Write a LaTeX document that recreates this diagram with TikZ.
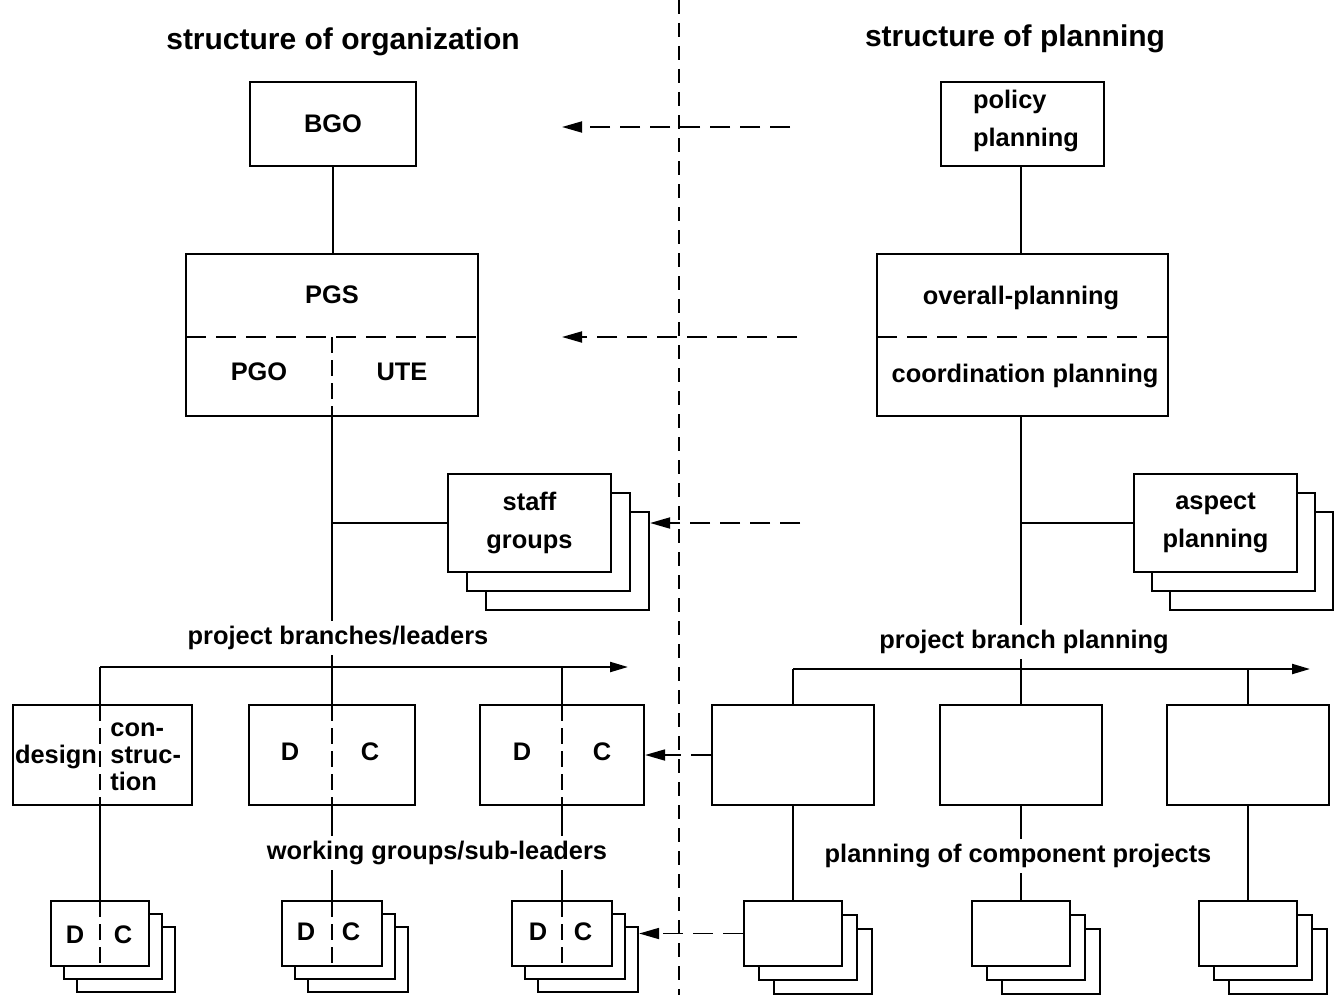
\documentclass[tikz,border=0pt]{standalone}
\usepackage{fontspec}
\setmainfont{Liberation Sans}
\usetikzlibrary{fit,arrows.meta}
\newcommand{\mkstack}[7]{%
  \node[box, fit={(#2+2*#6,#3+2*#7)(#4+2*#6,#5+2*#7)}] (#1c) {};
  \node[box, fit={(#2+#6,#3+#7)(#4+#6,#5+#7)}] (#1b) {};
  \node[box, fit={(#2,#3)(#4,#5)}] (#1) {};}
\begin{document}
\begin{tikzpicture}[x=0.5pt,y=-0.5pt,
  box/.style={draw, line width=1.1pt, fill=white, inner sep=0pt},
  lbl/.style={font=\fontsize{12.7}{15}\selectfont\bfseries, inner sep=0pt},
  lbltwo/.style={font=\fontsize{12.7}{19}\selectfont\bfseries, inner sep=0pt},
  gaplbl/.style={font=\fontsize{12.7}{15}\selectfont\bfseries, inner sep=2.5pt},
  ttl/.style={font=\fontsize{15}{18}\selectfont\bfseries, inner sep=0pt},
  conn/.style={line width=1.1pt},
  innerh/.style={line width=0.9pt, dash pattern=on 10pt off 5pt},
  innerv/.style={line width=0.9pt, dash pattern=on 8pt off 3.5pt},
  flow/.style={line width=0.9pt, dash pattern=on 10pt off 5pt, -{Triangle[length=10pt,width=5.5pt]}},
  bus/.style={line width=1.1pt, -{Triangle[length=9pt,width=5pt]}},
  divider/.style={line width=0.8pt, dash pattern=on 7pt off 4.5pt}]

\useasboundingbox (0,0) rectangle (1336,995);

% central divider
\coordinate (d1) at (679,0);
\coordinate (d2) at (679,995);
\draw[divider] (d1) -- (d2);

% titles
\node[ttl] (t1) at (343,42) {structure of organization};
\node[ttl] (t2) at (1015,39) {structure of planning};

% ---------- left: organization ----------
\node[box, fit={(250,82)(416,166)}] (bgo) {};
\node[lbl] (bgoT) at (bgo) {BGO};

\node[box, fit={(186,254)(478,416)}] (pgs) {};
\draw[innerh] (186,337) -- (478,337);
\draw[innerv] (332,337) -- (332,416);
\node[lbl] (pgsT) at (332,295) {PGS};
\node[lbl] (pgoT) at (259,372) {PGO};
\node[lbl] (uteT) at (402,372) {UTE};

\draw[conn] (bgo.south) -- (bgo.south |- pgs.north);

% staff groups
\mkstack{sg}{448}{474}{611}{572}{19}{19}
\node[lbltwo, align=center] (sgT) at (sg) {staff\\groups};

% project branches
\node[gaplbl] (pbl) at (338,638) {project branches/leaders};
\coordinate (busL) at (100,667);
\coordinate (busLe) at (628,667);

\node[box, fit={(13,705)(192,805)}] (lb1) {};
\node[box, fit={(249,705)(415,805)}] (lb2) {};
\node[box, fit={(480,705)(644,805)}] (lb3) {};
\draw[innerv] (100,705) -- (100,805);
\draw[innerv] (332,705) -- (332,805);
\draw[innerv] (562,705) -- (562,805);
\node[lbl] (desT) at (56,757) {design};
\node[font=\fontsize{12.7}{13.5}\selectfont\bfseries, inner sep=0pt, align=left, anchor=west] (conT) at (110,757) {con-\\struc-\\tion};
\node[lbl] (d2T) at (290,752) {D};
\node[lbl] (c2T) at (370,752) {C};
\node[lbl] (d3T) at (522,752) {D};
\node[lbl] (c3T) at (602,752) {C};

\draw[conn] (pgs.south) -- (pgs.south |- pbl.north);
\draw[conn] (pgs.south |- pbl.south) -- (lb2.north);
\draw[conn] (pgs.south |- sg.west) -- (sg.west);
\draw[bus] (busL) -- (busLe);
\draw[conn] (busL) -- (busL |- lb1.north);
\draw[conn] (lb3.north |- busL) -- (lb3.north);

% working groups
\node[gaplbl] (wgl) at (437,853) {working groups/sub-leaders};
\mkstack{ls1}{51}{901}{149}{966}{13}{13}
\mkstack{ls2}{282}{901}{382}{966}{13}{13}
\mkstack{ls3}{512}{901}{612}{966}{13}{13}
\draw[innerv] (100,901) -- (100,966);
\draw[innerv] (332,901) -- (332,966);
\draw[innerv] (562,901) -- (562,966);
\node[lbl] (ld1) at (75,935) {D};
\node[lbl] (lc1) at (123,935) {C};
\node[lbl] (ld2) at (306,932) {D};
\node[lbl] (lc2) at (351,932) {C};
\node[lbl] (ld3) at (538,932) {D};
\node[lbl] (lc3) at (583,932) {C};

\draw[conn] (busL |- lb1.south) -- (ls1.north);
\draw[conn] (lb2.south) -- (lb2.south |- wgl.north);
\draw[conn] (lb2.south |- wgl.south) -- (ls2.north);
\draw[conn] (lb3.south) -- (lb3.south |- wgl.north);
\draw[conn] (lb3.south |- wgl.south) -- (ls3.north);

% ---------- right: planning ----------
\node[box, fit={(941,82)(1104,166)}] (pol) {};
\node[lbltwo, align=left] (polT) at (1026,121) {policy\\planning};

\node[box, fit={(877,254)(1168,416)}] (ovp) {};
\draw[innerh] (877,337) -- (1168,337);
\node[lbl] (ovT) at (1021,298) {overall-planning};
\node[lbl] (coT) at (1025,376) {coordination planning};

\node[gaplbl] (pbp) at (1024,642) {project branch planning};
\coordinate (busR) at (793,669);
\coordinate (busRe) at (1310,669);

\node[box, fit={(712,705)(874,805)}] (rb1) {};
\node[box, fit={(940,705)(1102,805)}] (rb2) {};
\node[box, fit={(1167,705)(1329,805)}] (rb3) {};

\mkstack{asp}{1134}{474}{1297}{572}{18}{19}
\node[lbltwo, align=center] (aspT) at (asp) {aspect\\planning};

\draw[conn] (rb2.north |- pol.south) -- (rb2.north |- ovp.north);
\draw[conn] (rb2.north |- ovp.south) -- (rb2.north |- pbp.north);
\draw[conn] (rb2.north |- pbp.south) -- (rb2.north);
\draw[conn] (rb2.north |- asp.west) -- (asp.west);
\draw[bus] (busR) -- (busRe);
\draw[conn] (busR) -- (rb1.north);
\draw[conn] (rb3.north |- busR) -- (rb3.north);

\node[gaplbl] (pcp) at (1018,856) {planning of component projects};
\mkstack{rs1}{744}{901}{842}{966}{15}{14}
\mkstack{rs2}{972}{901}{1070}{966}{15}{14}
\mkstack{rs3}{1199}{901}{1297}{966}{15}{14}

\draw[conn] (rb1.south) -- (rs1.north);
\draw[conn] (rb2.south) -- (rb2.south |- pcp.north);
\draw[conn] (rb2.south |- pcp.south) -- (rs2.north);
\draw[conn] (rb3.south) -- (rs3.north);

% ---------- dashed flows ----------
\coordinate (f1s) at (790,127);
\coordinate (f1e) at (562,127);
\coordinate (f2s) at (797,337);
\coordinate (f2e) at (562,337);
\coordinate (f3s) at (800,523);
\draw[flow] (f1s) -- (f1e);
\draw[flow] (f2s) -- (f2e);
\draw[flow] (f3s) -- (f3s -| sgc.east);
\draw[flow] (rb1.west) -- (rb1.west -| lb3.east);
\draw[flow] (rs1.west) -- (rs1.west -| ls3c.east);
\end{tikzpicture}
\end{document}
